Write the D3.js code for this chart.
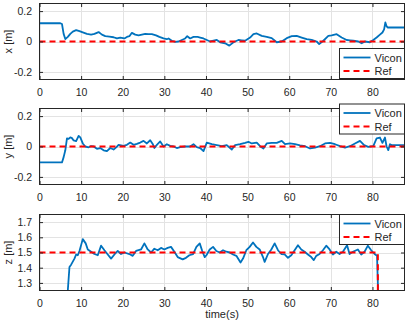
<!DOCTYPE html>
<html>
<head>
    <style>
        body {
            margin: 0;
            padding: 0;
            background-color: white;
            font-family: "Liberation Sans", Arial, sans-serif;
        }
        .tick text {
            fill: #262626;
            font-size: 10.5px;
        }
        .lbl {
            fill: #262626;
            font-size: 11px;
        }
    </style>
    <script src="https://d3js.org/d3.v7.min.js"></script>
</head>
<body>
<div id="chart"></div>
<script>
    // time axis
    var tMax = 87.7;
    var timeTicks = [0, 10, 20, 30, 40, 50, 60, 70, 80];

    // y ticks per panel
    var xTicks = [-0.2, 0, 0.2];
    var yTicks = [-0.2, 0, 0.2];
    var zTicks = [1.3, 1.4, 1.5, 1.6, 1.7];

    // measured (Vicon) samples, [time, value]
    var xVicon = [[0,0.12],[5.0,0.12],[5.4,0.115],[5.8,0.05],[6.2,0.016],[6.8,0.03],[7.4,0.05],[8.0,0.065],[8.8,0.075],[9.6,0.068],[10.4,0.06],[11.4,0.05],[12.4,0.045],[13.2,0.05],[14.2,0.062],[15.0,0.045],[15.8,0.035],[16.8,0.032],[17.8,0.028],[18.6,0.02],[19.4,0.025],[20.4,0.02],[21.0,0.03],[21.6,0.035],[22.2,0.057],[23.0,0.045],[23.8,0.04],[24.6,0.045],[25.4,0.05],[26.2,0.048],[27.0,0.048],[28.0,0.04],[28.8,0.03],[29.8,0.02],[30.6,0.015],[31.0,0.02],[31.8,0.005],[32.6,-0.002],[33.4,0],[34.2,0.01],[35.0,0.02],[35.5,0.035],[36.2,0.02],[37.0,0.03],[38.0,0.03],[38.6,0.026],[39.4,0.02],[40.2,0.01],[41.0,0],[41.8,0.005],[42.6,0.01],[43.4,-0.005],[44.6,-0.012],[45.6,-0.027],[46.6,-0.005],[47.8,0.01],[48.6,0.008],[49.4,0.005],[50.6,0.026],[51.4,0.048],[52.2,0.053],[53.4,0.037],[54.6,0.031],[55.8,0.022],[57.0,-0.005],[58.2,0],[59.4,0.022],[60.6,0.035],[61.8,0.037],[63.0,0.026],[64.2,0.015],[65.4,0.01],[66.6,0],[67.2,-0.017],[68.2,0.005],[69.4,0.037],[70.2,0.04],[71.4,0.048],[72.6,0.026],[73.8,0.01],[74.6,0.008],[75.4,0.005],[76.6,0],[77.4,-0.012],[78.2,0],[79.4,-0.005],[80.2,0.01],[81.0,0.026],[81.8,0.045],[82.4,0.059],[82.8,0.08],[83.1,0.125],[83.4,0.1],[83.7,0.092],[84.2,0.092],[87.7,0.092]];

    var yVicon = [[0,-0.105],[5.4,-0.105],[5.8,-0.07],[6.2,-0.025],[6.6,0.053],[7.0,0.05],[7.4,0.06],[7.8,0.055],[8.2,0.04],[8.8,0.035],[9.4,0.07],[9.8,0.06],[10.4,0.02],[11.0,0],[11.8,-0.005],[12.4,0.002],[13.0,0],[13.8,-0.015],[14.6,-0.01],[15.4,-0.025],[16.2,-0.03],[17.0,-0.01],[17.8,-0.02],[18.5,-0.004],[19.0,0.011],[20.2,0.004],[21.0,0.011],[21.8,0.026],[22.6,0.011],[23.4,0.017],[24.2,0.026],[25.0,0.037],[25.8,0.02],[26.6,0.041],[27.2,0.017],[27.6,-0.01],[28.2,0.011],[29.0,0.033],[29.8,0],[30.6,0.015],[31.4,0.004],[32.2,0],[33.0,-0.01],[33.8,-0.004],[35.0,0],[36.2,0],[37.0,0.015],[37.8,-0.004],[38.6,-0.01],[39.4,-0.03],[40.2,0.026],[41.4,0.015],[42.6,0.009],[43.8,0.002],[45.0,0.009],[46.2,-0.02],[47.0,0.009],[48.2,0.015],[49.4,0.024],[50.2,0.031],[51.0,0.02],[52.2,0.026],[53.0,0.002],[53.8,-0.013],[54.6,0.02],[55.8,0.024],[57.0,0.024],[58.2,0.037],[59.0,0.015],[60.2,0.02],[61.4,0.015],[62.6,0.007],[63.8,0.002],[65.0,-0.013],[66.2,-0.007],[67.4,0.002],[68.6,0.02],[69.8,0.024],[71.0,0.015],[72.2,0.002],[73.4,-0.007],[74.6,0.002],[75.8,0.02],[77.0,0.037],[78.0,0.009],[79.0,-0.002],[80.2,0.002],[81.0,0.053],[81.8,0.059],[82.4,0.024],[83.0,0.059],[83.4,0],[83.8,-0.024],[84.2,0.015],[84.6,0.009],[87.7,0.009]];

    var zVicon = [[0,0.02],[5.6,0.02],[6.2,0.9],[6.8,1.25],[7.2,1.405],[7.6,1.42],[8.4,1.46],[8.8,1.487],[9.2,1.482],[9.6,1.51],[10.4,1.588],[11.1,1.56],[11.6,1.52],[12.4,1.505],[13.2,1.49],[14.0,1.482],[14.8,1.545],[15.6,1.515],[16.4,1.487],[17.2,1.46],[18.0,1.487],[18.8,1.51],[19.6,1.49],[20.4,1.5],[21.6,1.49],[22.4,1.478],[23.2,1.51],[24.4,1.52],[25.2,1.56],[26.0,1.52],[26.8,1.5],[27.6,1.525],[28.4,1.515],[29.2,1.53],[30.0,1.52],[30.8,1.53],[31.6,1.537],[32.4,1.505],[33.2,1.47],[34.4,1.455],[35.2,1.465],[36.0,1.482],[36.9,1.49],[37.7,1.537],[38.5,1.56],[39.1,1.51],[39.7,1.47],[40.1,1.482],[40.9,1.52],[41.7,1.537],[42.5,1.51],[43.3,1.5],[44.1,1.515],[44.9,1.505],[45.7,1.5],[46.5,1.487],[47.3,1.478],[48.3,1.434],[48.9,1.46],[49.7,1.515],[50.5,1.537],[51.3,1.566],[52.1,1.537],[52.9,1.52],[53.7,1.47],[54.1,1.438],[54.9,1.49],[55.7,1.52],[56.5,1.56],[57.3,1.515],[58.1,1.49],[58.9,1.487],[59.7,1.465],[60.5,1.482],[61.3,1.515],[62.1,1.548],[62.9,1.52],[63.7,1.505],[64.5,1.487],[65.3,1.47],[65.9,1.45],[66.5,1.478],[67.3,1.49],[68.1,1.515],[68.9,1.545],[69.7,1.52],[70.5,1.487],[71.3,1.505],[72.1,1.49],[72.9,1.505],[73.9,1.548],[74.5,1.49],[75.3,1.505],[76.1,1.515],[76.5,1.52],[77.3,1.487],[78.1,1.505],[78.9,1.545],[79.7,1.515],[80.5,1.49],[81.1,1.478],[81.4,1.2],[81.6,0.02],[87.7,0.02]];

    // reference trajectories
    var xRef = [[0,0],[87.7,0]];
    var yRef = [[0,0],[87.7,0]];
    var zRef = [[0,1.5],[81.3,1.5],[81.3,0]];

    var legendNames = ["Vicon", "Ref"];

    var W = 407, H = 323;
    var left = 39.5, right = 404.5;

    var panels = [
        { id: "px", label: "x [m]", top: 3.5, bottom: 79.5, domain: [-0.25, 0.25], ticks: xTicks, vicon: xVicon, ref: xRef, legTop: 48.5 },
        { id: "py", label: "y [m]", top: 108.5, bottom: 184.5, domain: [-0.25, 0.25], ticks: yTicks, vicon: yVicon, ref: yRef, legTop: 104 },
        { id: "pz", label: "z [m]", top: 214.5, bottom: 290.5, domain: [1.25, 1.75], ticks: zTicks, vicon: zVicon, ref: zRef, legTop: 214.5 }
    ];

    var svg = d3.select("#chart").append("svg")
        .attr("width", W)
        .attr("height", H);

    var xScale = d3.scaleLinear().domain([0, tMax]).range([left, right]);

    panels.forEach(function(p, i) {
        var yScale = d3.scaleLinear().domain(p.domain).range([p.bottom, p.top]);
        var g = svg.append("g");

        g.append("clipPath").attr("id", "clip" + i)
            .append("rect")
            .attr("x", left).attr("y", p.top)
            .attr("width", right - left).attr("height", p.bottom - p.top);

        // grid
        g.selectAll(".vg").data(timeTicks).enter().append("line")
            .attr("x1", function(d) { return Math.round(xScale(d)) + 0.5; })
            .attr("x2", function(d) { return Math.round(xScale(d)) + 0.5; })
            .attr("y1", p.top).attr("y2", p.bottom)
            .attr("stroke", "#e3e3e3").attr("stroke-width", 1);
        g.selectAll(".hg").data(p.ticks).enter().append("line")
            .attr("y1", function(d) { return Math.round(yScale(d)) + 0.5; })
            .attr("y2", function(d) { return Math.round(yScale(d)) + 0.5; })
            .attr("x1", left).attr("x2", right)
            .attr("stroke", "#e3e3e3").attr("stroke-width", 1);

        // lines
        var line = d3.line()
            .x(function(d) { return xScale(d[0]); })
            .y(function(d) { return yScale(d[1]); });

        g.append("path").datum(p.vicon)
            .attr("clip-path", "url(#clip" + i + ")")
            .attr("d", line)
            .attr("fill", "none")
            .attr("stroke", "#0072BD")
            .attr("stroke-width", 1.8)
            .attr("stroke-linejoin", "round");

        g.append("path").datum(p.ref)
            .attr("clip-path", "url(#clip" + i + ")")
            .attr("d", line)
            .attr("fill", "none")
            .attr("stroke", "#FF0000")
            .attr("stroke-width", 2)
            .attr("stroke-dasharray", "6,4");

        // axes (ticks inward, box)
        var tickLen = 3.5;
        g.append("g")
            .attr("transform", "translate(0," + p.bottom + ")")
            .call(d3.axisBottom(xScale).tickValues(timeTicks).tickSizeInner(-tickLen).tickSizeOuter(0).tickPadding(6 + tickLen).tickFormat(d3.format("d")))
            .call(function(a) { a.select(".domain").remove(); a.selectAll("line").attr("stroke", "#262626"); });
        g.append("g")
            .attr("transform", "translate(0," + p.top + ")")
            .call(d3.axisTop(xScale).tickValues(timeTicks).tickSizeInner(-tickLen).tickSizeOuter(0).tickFormat(""))
            .call(function(a) { a.select(".domain").remove(); a.selectAll("line").attr("stroke", "#262626"); });
        g.append("g")
            .attr("transform", "translate(" + left + ",0)")
            .call(d3.axisLeft(yScale).tickValues(p.ticks).tickSizeInner(-tickLen).tickSizeOuter(0).tickPadding(4 + tickLen).tickFormat(function(d) { return d === 0 ? "0" : String(d); }))
            .call(function(a) { a.select(".domain").remove(); a.selectAll("line").attr("stroke", "#262626"); });
        g.append("g")
            .attr("transform", "translate(" + right + ",0)")
            .call(d3.axisRight(yScale).tickValues(p.ticks).tickSizeInner(-tickLen).tickSizeOuter(0).tickFormat(""))
            .call(function(a) { a.select(".domain").remove(); a.selectAll("line").attr("stroke", "#262626"); });

        g.selectAll(".tick text").attr("font-family", "Liberation Sans, Arial, sans-serif");

        g.append("rect")
            .attr("x", left).attr("y", p.top)
            .attr("width", right - left).attr("height", p.bottom - p.top)
            .attr("fill", "none").attr("stroke", "#262626").attr("stroke-width", 1);

        // y label
        g.append("text")
            .attr("class", "lbl")
            .attr("transform", "translate(12," + ((p.top + p.bottom) / 2) + ") rotate(-90)")
            .attr("text-anchor", "middle")
            .text(p.label);

        // legend
        var lx = 339.5, lw = right - lx, lh = 30;
        var leg = g.append("g").attr("transform", "translate(" + lx + "," + p.legTop + ")");
        leg.append("rect").attr("width", lw).attr("height", lh)
            .attr("fill", "white").attr("stroke", "#262626").attr("stroke-width", 1);
        legendNames.forEach(function(name, k) {
            var cy = 9 + k * 13.5;
            leg.append("line")
                .attr("x1", 4).attr("x2", 31).attr("y1", cy).attr("y2", cy)
                .attr("stroke", k === 0 ? "#0072BD" : "#FF0000")
                .attr("stroke-width", k === 0 ? 1.8 : 2)
                .attr("stroke-dasharray", k === 0 ? null : "6,4");
            leg.append("text").attr("class", "lbl")
                .attr("x", 35).attr("y", cy + 4)
                .text(name);
        });
    });

    svg.append("text")
        .attr("class", "lbl")
        .attr("x", (left + right) / 2)
        .attr("y", 318)
        .attr("text-anchor", "middle")
        .text("time(s)");
</script>
</body>
</html>
